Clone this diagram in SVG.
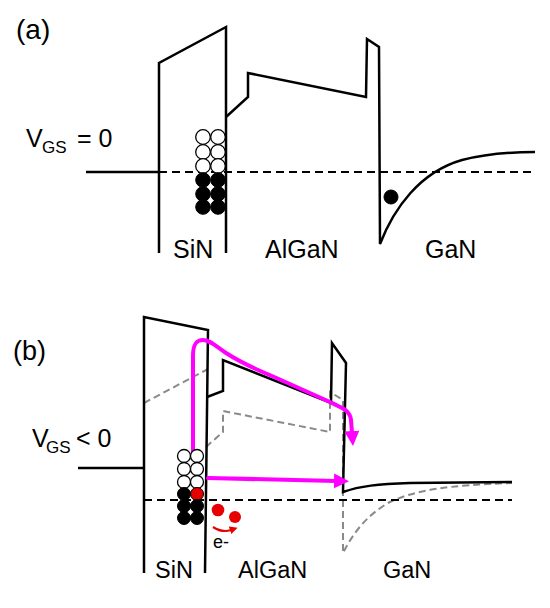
<svg xmlns="http://www.w3.org/2000/svg" width="550" height="608" viewBox="0 0 550 608">
<style>
text{font-family:"Liberation Sans",Arial,sans-serif;fill:#000}
.band{fill:none;stroke:#000;stroke-width:2.5;stroke-linejoin:miter}
.fermi{fill:none;stroke:#000;stroke-width:2;stroke-dasharray:8,5}
.gray{fill:none;stroke:#8a8a8a;stroke-width:2;stroke-dasharray:7,4}
.mag{fill:none;stroke:#f0f;stroke-width:4;stroke-linecap:round;stroke-linejoin:round}
.open{fill:#fff;stroke:#000;stroke-width:1.3}
.full{fill:#000;stroke:#000;stroke-width:1}
.red{fill:#e60000}
</style>
<defs>
<marker id="magHead" markerUnits="userSpaceOnUse" markerWidth="16" markerHeight="16" refX="2" refY="7.5" orient="auto">
<path d="M0,0 L15,7.5 L0,15 z" fill="#f0f"/>
</marker>
<marker id="redHead" markerUnits="userSpaceOnUse" markerWidth="9" markerHeight="9" refX="1" refY="4" orient="auto">
<path d="M0,0 L8,4 L0,8 z" fill="#e60000"/>
</marker>
</defs>

<g id="panel-a">
<text x="16" y="39" font-size="28">(a)</text>
<text x="26" y="147" font-size="25">V<tspan x="42" font-size="17" dy="6">GS</tspan><tspan x="77" dy="-6">= 0</tspan></text>
<g id="a-bands">
<path class="band" d="M86,172 H159"/>
<path class="band" d="M159,253 L159,63 L226,27 L226,253"/>
<path class="band" d="M226,117 L248,97 L248,73 L366,97 L367,39 L379,47 L380,244 C394,208 420,172 462,160 C485,154 510,152 535,152"/>
<path class="fermi" d="M159,172 H535"/>
</g>
<g id="a-traps">
<circle class="open" cx="203" cy="137" r="7.3"/><circle class="open" cx="218" cy="137" r="7.3"/>
<circle class="open" cx="203" cy="152" r="7.3"/><circle class="open" cx="218" cy="152" r="7.3"/>
<circle class="open" cx="203" cy="166" r="7.3"/><circle class="open" cx="218" cy="166" r="7.3"/>
<circle class="full" cx="203" cy="180" r="7.3"/><circle class="full" cx="218" cy="180" r="7.3"/>
<circle class="full" cx="203" cy="194" r="7.3"/><circle class="full" cx="218" cy="194" r="7.3"/>
<circle class="full" cx="203" cy="207" r="7.3"/><circle class="full" cx="218" cy="207" r="7.3"/>
</g>
<circle id="a-electron" class="full" cx="391" cy="197" r="7"/>
<text x="173" y="258" font-size="25">SiN</text>
<text x="265" y="258" font-size="25">AlGaN</text>
<text x="425" y="258" font-size="25">GaN</text>
</g>

<g id="panel-b">
<text x="13" y="360" font-size="27">(b)</text>
<text x="32" y="447" font-size="25">V<tspan x="46" font-size="17" dy="6">GS</tspan><tspan x="76" dy="-6">&lt; 0</tspan></text>
<g id="b-gray">
<path class="gray" d="M144,403 L208,369"/>
<path class="gray" d="M206,447 L223,432 L223,411 L330,432 L330,392 L343,400 L343,553 C352,535 366,515 390,502 C415,490 450,485 512,483"/>
</g>
<g id="b-bands">
<path class="band" d="M78,468 H144"/>
<path class="band" d="M144,573 L144,317 L208,330 L205,573"/>
<path class="band" d="M207,397 L223,391 L223,360 L331,403 L332,343 L346,363 L343,492 C360,486 378,484 410,483 L512,482"/>
<path class="fermi" d="M144,500 H512"/>
</g>
<g id="connectors">
<path class="mag" d="M193,455 L193,356 C193,343 197,340 203,340 C210,340 214,345 226,353 C240,362 255,369 272,376 L330,402 C342,408 350,410 351,420 L352,433" marker-end="url(#magHead)"/>
<path class="mag" d="M208,478 L336,481" marker-end="url(#magHead)"/>
<path fill="none" stroke="#e60000" stroke-width="2.2" d="M213,527 Q222,533 231,530" marker-end="url(#redHead)"/>
</g>
<g id="b-traps">
<circle class="open" cx="184" cy="456" r="6.5"/><circle class="open" cx="197" cy="456" r="6.5"/>
<circle class="open" cx="184" cy="469" r="6.5"/><circle class="open" cx="197" cy="469" r="6.5"/>
<circle class="open" cx="184" cy="482" r="6.5"/><circle class="open" cx="197" cy="482" r="6.5"/>
<circle class="full" cx="184" cy="494" r="6.5"/><circle class="red" stroke="#000" stroke-width="1" cx="197" cy="494" r="6.5"/>
<circle class="full" cx="184" cy="506" r="6.5"/><circle class="full" cx="197" cy="506" r="6.5"/>
<circle class="full" cx="184" cy="518" r="6.5"/><circle class="full" cx="197" cy="518" r="6.5"/>
</g>
<g id="b-electrons">
<circle class="red" cx="218" cy="510" r="6.3"/>
<circle class="red" cx="235" cy="517" r="6"/>
<text x="213" y="548" font-size="18">e-</text>
</g>
<text x="155" y="578" font-size="23.5">SiN</text>
<text x="238" y="578" font-size="23.5">AlGaN</text>
<text x="383" y="578" font-size="23.5">GaN</text>
</g>
</svg>
